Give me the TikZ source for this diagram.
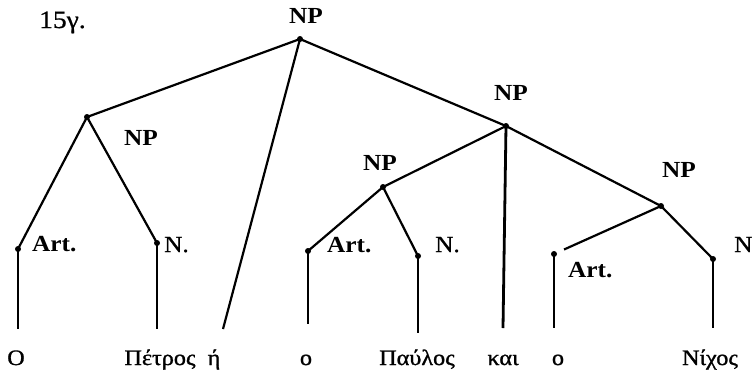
\documentclass[tikz,border=0pt]{standalone}
\usepackage{fontspec}
\setmainfont{Liberation Serif}
\newfontfamily\lblfont[FakeStretch=1.1]{Liberation Serif}
\newfontfamily\lblregfont[FakeStretch=1.1,FakeBold=0.8]{Liberation Serif}
\newfontfamily\wordfont[FakeStretch=1.1,FakeBold=1.2]{Liberation Serif}
\begin{document}
\begin{tikzpicture}[x=1pt,y=-1pt,
  dot/.style={circle,fill=black,inner sep=0pt,minimum size=6pt},
  cat/.style={anchor=base,inner sep=0pt,font=\lblfont\fontsize{23}{23}\selectfont\bfseries},
  catl/.style={anchor=base west,inner sep=0pt,font=\lblfont\fontsize{23}{23}\selectfont\bfseries},
  catn/.style={anchor=base west,inner sep=0pt,font=\lblregfont\fontsize{23}{23}\selectfont},
  word/.style={anchor=base,inner sep=0pt,font=\wordfont\fontsize{22}{22}\selectfont},
  edge/.style={line width=2.2pt},
  leaf/.style={line width=2.8pt}]
\useasboundingbox (0,0) rectangle (752,376);
% title
\node[catn,font=\lblregfont\fontsize{25}{25}\selectfont] (title) at (39,28) {15γ.};
% nodes (dots)
\node[dot] (root) at (300,39) {};
\node[dot] (np1) at (87,117) {};
\node[dot] (np2) at (506,126) {};
\node[dot] (np21) at (383,187) {};
\node[dot] (np22) at (661,206) {};
\node[dot] (art1) at (18,249) {};
\node[dot] (n1) at (157,243) {};
\node[dot] (art2) at (308,251) {};
\node[dot] (n2) at (418,256) {};
\node[dot] (art3) at (554,254) {};
\node[dot] (n3) at (713,259) {};
% leaf endpoints
\coordinate (w1) at (18,329);
\coordinate (w2) at (157,329);
\coordinate (w3) at (223,329);
\coordinate (w4) at (308,324);
\coordinate (w5) at (418,333);
\coordinate (w6) at (503,328);
\coordinate (w7) at (554,328);
\coordinate (w8) at (713,328);
% labels
\node[cat] (lroot) at (306,23) {NP};
\node[cat] (lnp1) at (141,145) {NP};
\node[cat] (lnp2) at (511,100) {NP};
\node[cat] (lnp21) at (380,170) {NP};
\node[cat] (lnp22) at (679,177) {NP};
\node[catl] (lart1) at (32,251) {Art.};
\node[catn] (ln1) at (164,252) {N.};
\node[catl] (lart2) at (327,252) {Art.};
\node[catn] (ln2) at (435,252) {N.};
\node[catl] (lart3) at (568,277) {Art.};
\node[catn] (ln3) at (734,252) {N};
% words
\node[word] (t1) at (16,365) {O};
\node[word] (t2) at (160,365) {Πέτρος};
\node[word] (t3) at (214,365) {ή};
\node[word] (t4) at (306,365) {ο};
\node[word] (t5) at (417,365) {Παύλος};
\node[word] (t6) at (503,365) {και};
\node[word] (t7) at (558,365) {ο};
\node[word] (t8) at (710,365) {Νίχος};
% edges
\draw[edge] (root.center) -- (np1.center);
\draw[edge] (root.center) -- (w3);
\draw[edge] (root.center) -- (np2.center);
\draw[edge] (np1.center) -- (art1.center);
\draw[edge] (np1.center) -- (n1.center);
\draw[edge] (np2.center) -- (np21.center);
\draw[leaf] (np2.center) -- (w6);
\draw[edge] (np2.center) -- (np22.center);
\draw[edge] (np21.center) -- (art2.center);
\draw[edge] (np21.center) -- (n2.center);
\draw[edge,shorten >=11pt] (np22.center) -- (art3.center);
\draw[edge] (np22.center) -- (n3.center);
\draw[leaf] (art1.center) -- (w1);
\draw[leaf] (n1.center) -- (w2);
\draw[leaf] (art2.center) -- (w4);
\draw[leaf] (n2.center) -- (w5);
\draw[leaf] (art3.center) -- (w7);
\draw[leaf] (n3.center) -- (w8);
\end{tikzpicture}
\end{document}
